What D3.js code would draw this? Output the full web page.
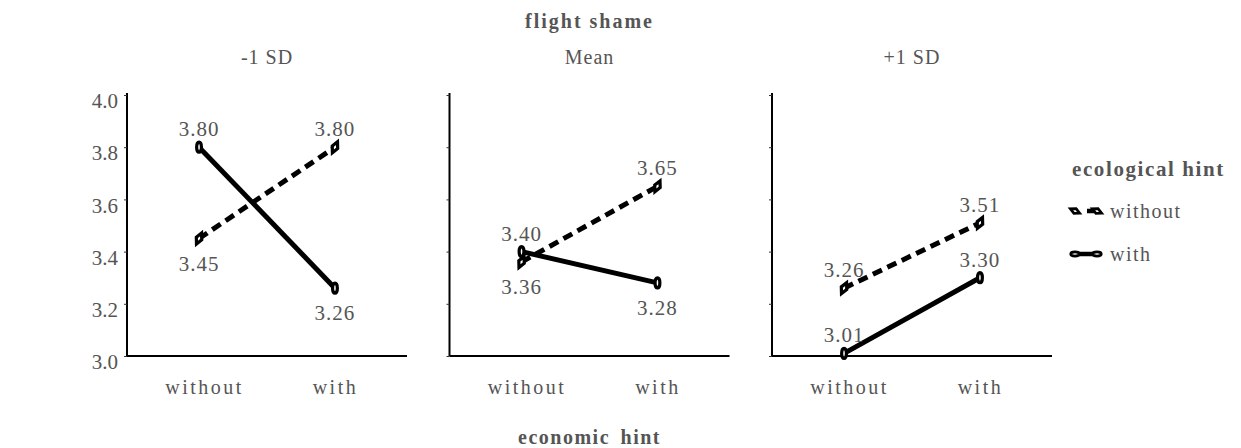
<!DOCTYPE html>
<html>
<head>
<meta charset="utf-8">
<script src="https://cdn.jsdelivr.net/npm/d3@7"></script>
<style>
  body { margin: 0; background: #fff; }
  text { font-family: "Liberation Serif", "DejaVu Serif", serif; fill: #555; }
</style>
</head>
<body>
<div class="vis"></div>
<script>
// data
var panels = ["-1 SD", "Mean", "+1 SD"];
var econ = ["without", "with"];
var eco = ["without", "with"];
var withoutEco = [[3.45, 3.80], [3.36, 3.65], [3.26, 3.51]];
var withEco = [[3.80, 3.26], [3.40, 3.28], [3.01, 3.30]];
// which side of the point the value label sits on
var withoutSide = [["below", "above"], ["below", "above"], ["above", "above"]];
var withSide = [["above", "below"], ["above", "below"], ["above", "above"]];
var yTicks = [3.0, 3.2, 3.4, 3.6, 3.8, 4.0];

var W = 1241, H = 448;
var panelW = 280, panelGap = 322.5, left0 = 127;
var plotTop = 95, plotBottom = 356;

var svg = d3.select(".vis").append("svg")
    .attr("width", W).attr("height", H);

var y = d3.scaleLinear().domain([3.0, 4.0]).range([plotBottom, plotTop]);
var x = d3.scalePoint().domain(econ).range([0, panelW]).padding(0.53);

var series = [
  {name: "without", vals: withoutEco, side: withoutSide, dash: "10,6"},
  {name: "with", vals: withEco, side: withSide, dash: null}
];

function marker(sel, kind) {
  if (kind === "with") {
    sel.append("ellipse").attr("rx", 2.4).attr("ry", 5)
      .attr("fill", "#fff").attr("stroke", "#000").attr("stroke-width", 3.2);
  } else {
    sel.append("path").attr("d", "M0,-6L3,0L0,6L-3,0Z")
      .attr("fill", "#fff").attr("stroke", "#000").attr("stroke-width", 3.2)
      .attr("transform", "rotate(25)");
  }
}

panels.forEach(function(p, i) {
  var g = svg.append("g")
    .attr("transform", "translate(" + (left0 + i * panelGap) + ",0)");

  // facet strip label
  g.append("text").attr("x", panelW / 2).attr("y", 64)
    .attr("text-anchor", "middle").style("font-size", "20px")
    .style("letter-spacing", "1px").text(p);

  // y axis
  var ya = g.append("g").call(d3.axisLeft(y).tickValues(yTicks)
      .tickFormat(i === 0 ? d3.format(".1f") : "").tickSize(3).tickPadding(6));
  ya.select(".domain").attr("stroke", "#000").attr("stroke-width", 2)
    .attr("d", "M0," + (plotTop - 2) + "V" + plotBottom);
  ya.selectAll(".tick line").attr("stroke", "#333");
  ya.selectAll(".tick text").style("font-size", "21px").style("fill", "#555")
    .style("font-family", "Liberation Serif").attr("dy", "0.6em");

  // x axis
  var xa = g.append("g").attr("transform", "translate(0," + plotBottom + ")")
    .call(d3.axisBottom(x).tickSize(0).tickPadding(24));
  xa.select(".domain").attr("stroke", "#000").attr("stroke-width", 2)
    .attr("d", "M0,0H" + panelW);
  xa.selectAll(".tick text").style("font-size", "20px").style("fill", "#555")
    .style("font-family", "Liberation Serif").style("letter-spacing", "2.5px")
    .attr("dx", function(d) { return d === "without" ? 5 : 0; });

  var line = d3.line().x(function(d, j) { return x(econ[j]); })
    .y(function(d) { return y(d); });

  series.forEach(function(s) {
    var v = s.vals[i];
    g.append("path").datum(v).attr("d", line)
      .attr("fill", "none").attr("stroke", "#000").attr("stroke-width", 5)
      .attr("stroke-dasharray", s.dash);
  });

  series.forEach(function(s) {
    var v = s.vals[i];
    v.forEach(function(val, j) {
      var m = g.append("g")
        .attr("transform", "translate(" + x(econ[j]) + "," + y(val) + ")");
      marker(m, s.name);
      var side = s.side[i][j];
      g.append("text").attr("x", x(econ[j]))
        .attr("y", y(val) + (side === "above" ? -11 : 32))
        .attr("text-anchor", "middle").style("font-size", "21px")
        .style("letter-spacing", "1px")
        .text(val.toFixed(2));
    });
  });
});

// titles
svg.append("text").attr("x", left0 + panelGap + panelW / 2).attr("y", 28)
  .attr("text-anchor", "middle").style("font-size", "20px").style("font-weight", "bold")
  .style("letter-spacing", "2px").text("flight shame");
svg.append("text").attr("x", left0 + panelGap + panelW / 2).attr("y", 444)
  .attr("text-anchor", "middle").style("font-size", "20px").style("font-weight", "bold")
  .style("letter-spacing", "1.5px").attr("word-spacing", "4px").text("economic hint");

// legend
var lg = svg.append("g").attr("transform", "translate(1072,0)");
lg.append("text").attr("x", 0).attr("y", 176).style("font-size", "21px")
  .style("font-weight", "bold").style("letter-spacing", "1.6px").text("ecological hint");
var ly = d3.scalePoint().domain(eco).range([211, 254]);
series.forEach(function(s) {
  var r = lg.append("g").attr("transform", "translate(0," + ly(s.name) + ")");
  r.append("line").attr("x1", 3).attr("x2", 25).attr("stroke", "#000")
    .attr("stroke-width", 4.5).attr("stroke-dasharray", s.dash ? "3,9,10" : null);
  [3, 25].forEach(function(px) {
    var m = r.append("g").attr("transform", "translate(" + px + ",0) rotate(90) scale(0.85)");
    marker(m, s.name);
  });
  r.append("text").attr("x", 38).attr("y", 7).style("font-size", "20px")
    .style("letter-spacing", "1.5px").text(s.name);
});
</script>
</body>
</html>
